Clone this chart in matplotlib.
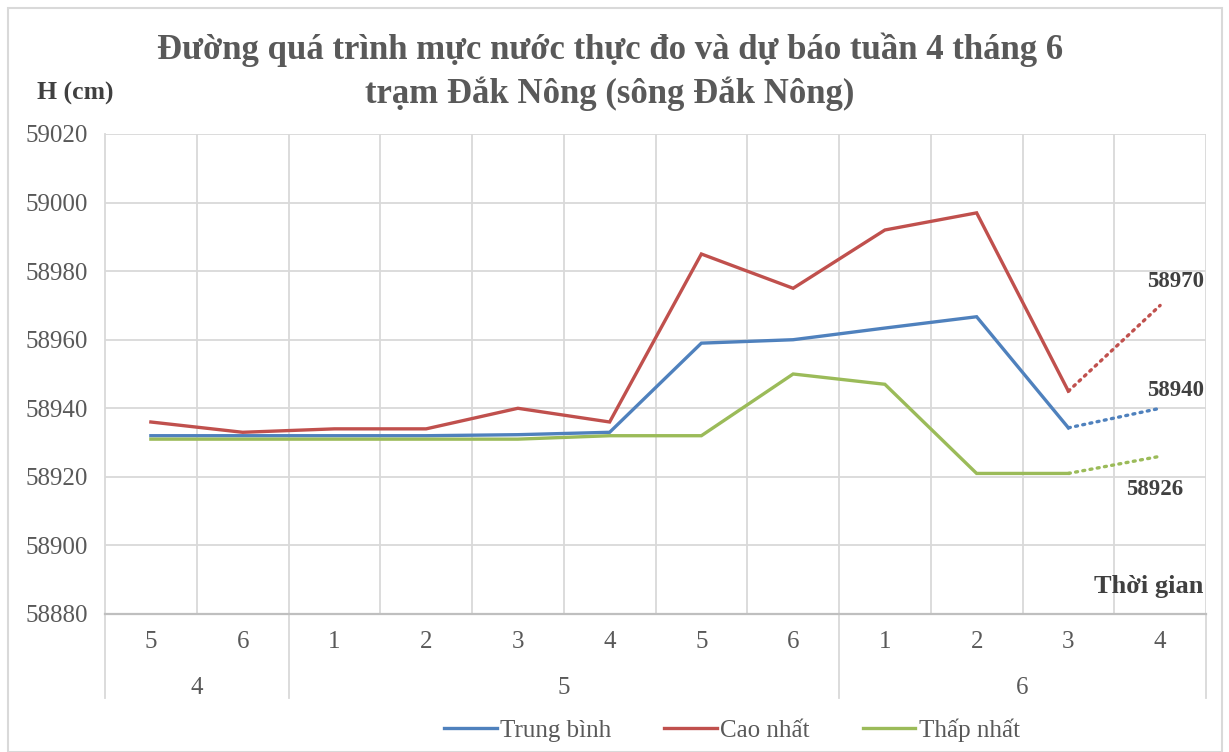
import matplotlib.pyplot as plt
from matplotlib.patches import Rectangle
from matplotlib.transforms import blended_transform_factory

plt.rcParams['font.family'] = ['Liberation Serif', 'DejaVu Serif']

weeks = ['5', '6', '1', '2', '3', '4', '5', '6', '1', '2', '3', '4']
months = ['4', '5', '6']
month_span = [(0, 2), (2, 8), (8, 12)]  # index ranges of weeks per month

trung_binh = [58932, 58932, 58932, 58932, 58932.3, 58933, 58959, 58960, 58963.4, 58966.7, 58934.3, 58940]
cao_nhat = [58936, 58933, 58934, 58934, 58940, 58936, 58985, 58975, 58992, 58997, 58945, 58970]
thap_nhat = [58931, 58931, 58931, 58931, 58931, 58932, 58932, 58950, 58947, 58921, 58921, 58926]

series = [
    ('Trung bình', trung_binh, '#4F81BD'),
    ('Cao nhất', cao_nhat, '#C0504D'),
    ('Thấp nhất', thap_nhat, '#9BBB59'),
]
n_obs = 11  # last point is forecast

fig = plt.figure(figsize=(12.29, 7.52), dpi=100)
W, H = 1229, 752
ax = fig.add_axes([105 / W, 1 - 614 / H, (1206 - 105) / W, (614 - 134) / H])

x = list(range(len(weeks)))
handles = []
for name, vals, col in series:
    h, = ax.plot(x[:n_obs], vals[:n_obs], color=col, lw=2.4, solid_joinstyle='miter', label=name)
    ax.plot(x[n_obs - 1:], vals[n_obs - 1:], color=col, lw=2.4, linestyle=(0, (0.6, 1.6)),
            dash_capstyle='round')
    handles.append(h)

# forecast labels
lab_col = '#404040'
lab_fs = 16.5
ax.annotate(f'{cao_nhat[-1]}', (x[-1], cao_nhat[-1]), xytext=(11, 17), textcoords='offset points',
            ha='center', va='center', fontsize=lab_fs, fontweight='bold', color=lab_col)
ax.annotate(f'{trung_binh[-1]}', (x[-1], trung_binh[-1]), xytext=(11, 13), textcoords='offset points',
            ha='center', va='center', fontsize=lab_fs, fontweight='bold', color=lab_col)
ax.annotate(f'{thap_nhat[-1]}', (x[-1], thap_nhat[-1]), xytext=(-4, -24), textcoords='offset points',
            ha='center', va='center', fontsize=lab_fs, fontweight='bold', color=lab_col)

ax.set_xlim(-0.5, len(weeks) - 0.5)
ax.set_ylim(58880, 59020)
ax.set_yticks(range(58880, 59021, 20))
ax.tick_params(axis='y', length=0, pad=12, labelsize=18, labelcolor='#595959')

grid_col = '#D9D9D9'
ax.grid(axis='y', color=grid_col, lw=1.3)
ax.set_xticks([i + 0.5 for i in range(len(weeks))], minor=True)
ax.grid(axis='x', which='minor', color=grid_col, lw=1.3)
ax.set_xticks([])
ax.set_axisbelow(True)
for s in ['top', 'right']:
    ax.spines[s].set_visible(False)
ax.spines['left'].set_color(grid_col)
ax.spines['left'].set_linewidth(1.3)
ax.spines['bottom'].set_color('#BFBFBF')
ax.spines['bottom'].set_linewidth(1.6)
ax.tick_params(axis='x', which='minor', length=0)

# multi-level category axis
tr = blended_transform_factory(ax.transData, ax.transAxes)
depth = -(698 - 614) / (614 - 134)
for i, w in enumerate(weeks):
    ax.text(i, -0.058, w, transform=tr, ha='center', va='center', fontsize=18, color='#595959')
for m, (a, b) in zip(months, month_span):
    ax.text((a + b - 1) / 2, -0.154, m, transform=tr, ha='center', va='center', fontsize=18, color='#595959')
for edge in [-0.5, 1.5, 7.5, 11.5]:
    ax.plot([edge, edge], [0, depth], transform=tr, color=grid_col, lw=1.3, clip_on=False)

# titles and axis captions
fig.text(610 / W, 1 - 50 / H, 'Đường quá trình mực nước thực đo và dự báo tuần 4 tháng 6',
         ha='center', va='center', fontsize=25, fontweight='bold', color='#595959')
fig.text(610 / W, 1 - 94 / H, 'trạm Đắk Nông (sông Đắk Nông)',
         ha='center', va='center', fontsize=25, fontweight='bold', color='#595959')
fig.text(37 / W, 1 - 93 / H, 'H (cm)', ha='left', va='center', fontsize=18.5, fontweight='bold', color='#404040')
fig.text(1203 / W, 1 - 586 / H, 'Thời gian', ha='right', va='center', fontsize=19, fontweight='bold', color='#404040')

fig.legend(handles=handles, loc='center', bbox_to_anchor=(732 / W, 1 - 730 / H), ncol=3, frameon=False,
           fontsize=18, handlelength=2.1, handletextpad=0.15, columnspacing=2.1,
           labelcolor='#595959')

fig.patches.append(Rectangle((8 / W, 0), (1222 - 8) / W, 1 - 8 / H, transform=fig.transFigure,
                             fill=False, edgecolor='#D9D9D9', lw=1.5))

fig.savefig('out.png', dpi=100)
